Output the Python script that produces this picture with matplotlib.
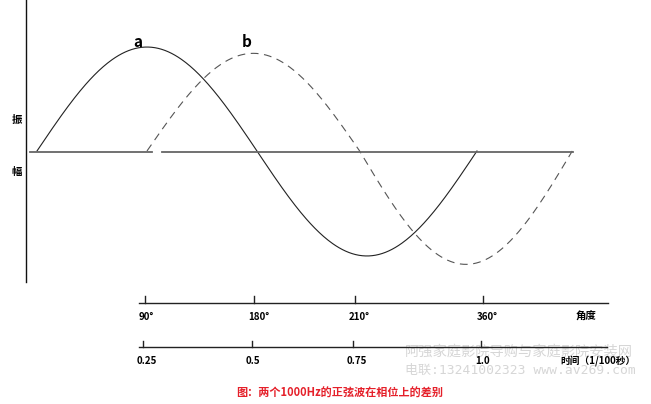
import numpy as np
import matplotlib.pyplot as plt

plt.rcParams['font.family'] = ['Noto Sans CJK SC', 'DejaVu Sans']

# 两条正弦波: 相位(度), 周期(度), 正/负半周幅度
phase_a, period_a, amp_a = 0, 360, (0.99, 1.00)
phase_b, period_b, amp_b = 90, 348, (0.93, 1.08)

angle_labels = ["90°", "180°", "210°", "360°"]
time_labels = ["0.25", "0.5", "0.75", "1.0"]
angle_title = "角度"
time_title = "时间（1/100秒）"
caption = "图：两个1000Hz的正弦波在相位上的差别"

# tick positions (px) of the two scales under the plot
angle_pos = [145, 254, 355, 483]
time_pos = [143, 252, 353, 481]


def wave(phase, period, amp):
    t = np.linspace(phase, phase + period, 400)
    y = np.sin(2 * np.pi * (t - phase) / period)
    y = np.where(y > 0, y * amp[0], y * amp[1])
    return t, y


fig = plt.figure(figsize=(6.51, 4.04), dpi=100)

# wave axes: x in degrees, y in amplitude units
ax = fig.add_axes([0, 0, 1, 1])
ax.set_xlim(-30.27, 502.4)
ax.set_ylim(-2.41, 1.438)
ax.axis("off")

ta, ya = wave(phase_a, period_a, amp_a)
tb, yb = wave(phase_b, period_b, amp_b)
ax.plot(ta, ya, color="#222222", lw=0.8)
ax.plot(tb, yb, color="#555555", lw=0.8, dashes=(7, 5))

# overlay axes in pixels for the frame, scales and text
ov = fig.add_axes([0, 0, 1, 1], zorder=3)
ov.set_xlim(0, 651)
ov.set_ylim(404, 0)
ov.axis("off")
ov.patch.set_alpha(0)

ov.plot([26, 26], [0, 282], color="#111111", lw=1)
ov.plot([30, 152], [151.5, 151.5], color="#666666", lw=1.3)
ov.plot([162, 573], [151.5, 151.5], color="#666666", lw=1.3)

ov.text(138, 42, "a", fontsize=11, fontweight="bold", ha="center", va="center")
ov.text(247, 42, "b", fontsize=11, fontweight="bold", ha="center", va="center")
ov.text(17, 120, "振", fontsize=7.5, fontweight="bold", ha="center", va="center")
ov.text(17, 172, "幅", fontsize=7.5, fontweight="bold", ha="center", va="center")

# watermark (behind the scale labels)
ov.text(405, 352, "阿强家庭影院导购与家庭影院安装网", fontsize=10.3, color="#d6d6d6",
        ha="left", va="center", zorder=1)
ov.text(405, 370, "电联:13241002323 www.av269.com", fontsize=9.4,
        family=["DejaVu Sans Mono", "Noto Sans CJK SC"], color="#d6d6d6",
        ha="left", va="center", zorder=1)

# angle scale
ov.plot([139, 608], [302.7, 302.7], color="#222222", lw=1)
for x, lab in zip(angle_pos, angle_labels):
    ov.plot([x, x], [296, 302.7], color="#222222", lw=1)
    ov.text(x - 6, 317, lab, fontsize=7, fontweight="bold", ha="left", va="center")
ov.text(586, 317, angle_title, fontsize=7.5, fontweight="bold", ha="center", va="center")

# time scale
ov.plot([139, 607], [347, 347], color="#222222", lw=1)
for x, lab in zip(time_pos, time_labels):
    ov.plot([x, x], [341, 347], color="#222222", lw=1)
    ov.text(x - 6, 361, lab, fontsize=7, fontweight="bold", ha="left", va="center")
ov.text(560, 361, time_title, fontsize=7, fontweight="bold", ha="left", va="center")

ov.text(340, 393, caption, fontsize=8, fontweight="bold", color="#e5202a",
        ha="center", va="center")

fig.savefig("out.png", dpi=100)
